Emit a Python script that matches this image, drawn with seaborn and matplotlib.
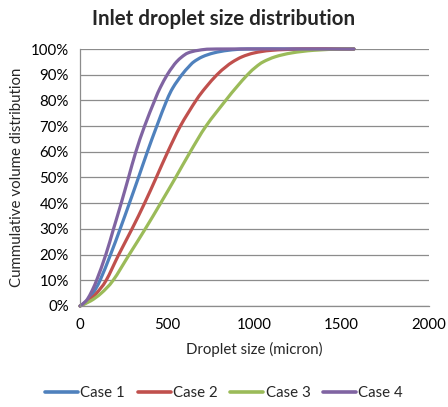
import matplotlib
matplotlib.use("Agg")
import matplotlib.pyplot as plt
from matplotlib.ticker import PercentFormatter, MultipleLocator
from matplotlib.path import Path
from matplotlib.patches import PathPatch
import seaborn as sns
import pandas as pd

# Cumulative volume fraction versus droplet size (micron) for each case
case_names = ["Case 1", "Case 2", "Case 3", "Case 4"]

size_case1 = [0, 40, 75, 115, 175, 230, 283, 335, 386, 440, 497, 533, 584, 622, 652, 702, 768, 850, 960, 1250, 1570]
cum_case1 = [0, .02, .05, .10, .20, .30, .40, .50, .60, .70, .80, .85, .90, .93, .95, .97, .985, .995, 1.0, 1.0, 1.0]

size_case2 = [0, 50, 95, 150, 222, 298, 370, 437, 503, 575, 665, 720, 785, 835, 875, 930, 1000, 1100, 1280, 1570]
cum_case2 = [0, .02, .05, .10, .20, .30, .40, .50, .60, .70, .80, .85, .90, .93, .95, .97, .985, .995, 1.0, 1.0]

size_case3 = [0, 62, 122, 190, 282, 374, 462, 548, 632, 722, 835, 895, 960, 1008, 1050, 1120, 1215, 1340, 1500, 1570]
cum_case3 = [0, .02, .05, .10, .20, .30, .40, .50, .60, .70, .80, .85, .90, .93, .95, .97, .985, .995, 1.0, 1.0]

size_case4 = [0, 35, 62, 95, 148, 192, 236, 278, 320, 370, 428, 460, 500, 530, 553, 585, 620, 680, 780, 1200, 1570]
cum_case4 = [0, .02, .05, .10, .20, .30, .40, .50, .60, .70, .80, .85, .90, .93, .95, .97, .985, .995, 1.0, 1.0, 1.0]

x_ticks = [0, 500, 1000, 1500, 2000]
colors = ["#4F81BD", "#C0504D", "#9BBB59", "#8064A2"]
line_w = 2.3

sizes = [size_case1, size_case2, size_case3, size_case4]
cums = [cum_case1, cum_case2, cum_case3, cum_case4]
frames = []
for name, s, c in zip(case_names, sizes, cums):
    frames.append(pd.DataFrame({"size": s, "cum": c, "case": name}))
df = pd.concat(frames, ignore_index=True)


def smooth_path(xs, ys):
    """Smoothed-line path: cubic Bezier segments through every data point."""
    pts = list(zip(xs, ys))
    n = len(pts)
    verts = [pts[0]]
    codes = [Path.MOVETO]
    for i in range(n - 1):
        p0 = pts[max(i - 1, 0)]
        p1 = pts[i]
        p2 = pts[i + 1]
        p3 = pts[min(i + 2, n - 1)]
        c1 = (p1[0] + (p2[0] - p0[0]) / 6.0, p1[1] + (p2[1] - p0[1]) / 6.0)
        c2 = (p2[0] - (p3[0] - p1[0]) / 6.0, p2[1] - (p3[1] - p1[1]) / 6.0)
        verts += [c1, c2, p2]
        codes += [Path.CURVE4] * 3
    return Path(verts, codes)


sns.set_style("white")
plt.rcParams["font.family"] = ["Lato", "DejaVu Sans"]
fs = 10.8

fig = plt.figure(figsize=(4.48, 4.07), dpi=100)
ax = fig.add_axes([0.1786, 0.2482, 0.7790, 0.6314])

sns.lineplot(data=df, x="size", y="cum", hue="case", hue_order=case_names,
             palette=dict(zip(case_names, colors)), sort=False,
             linewidth=line_w, ax=ax, legend=True)

# Render each series as a smoothed curve through its points
for line, s, c, col in zip(ax.get_lines()[:len(case_names)], sizes, cums, colors):
    line.set_visible(False)
    patch = PathPatch(smooth_path(s, c), facecolor="none", edgecolor=col,
                      linewidth=line_w, capstyle="round", joinstyle="round",
                      transform=ax.transData, clip_on=False)
    ax.add_patch(patch)

grid_col = "#8C8C8C"
ax.set_xlim(0, 2000)
ax.set_ylim(0, 1.0)
ax.set_xticks(x_ticks)
ax.yaxis.set_major_locator(MultipleLocator(0.1))
ax.yaxis.set_major_formatter(PercentFormatter(1.0, decimals=0))
ax.yaxis.grid(True, color=grid_col, linewidth=0.9)
ax.xaxis.grid(False)
ax.set_axisbelow(True)
for side in ["top", "right"]:
    ax.spines[side].set_visible(False)
for side in ["left", "bottom"]:
    ax.spines[side].set_color(grid_col)
    ax.spines[side].set_linewidth(0.9)
ax.tick_params(axis="both", which="major", direction="out", length=4,
               width=0.9, color=grid_col, labelsize=fs, labelcolor="black", pad=4)
ax.tick_params(axis="x", pad=5)

ax.set_xlabel("Droplet size (micron)", fontsize=fs, labelpad=7)
ax.set_ylabel("Cummulative volume distribution", fontsize=fs, labelpad=5)

fig.suptitle("Inlet droplet size distribution", x=0.5, y=0.978,
             fontsize=14.8, fontweight="bold")

handles, labels = ax.get_legend_handles_labels()
ax.legend_.remove()
for h in handles:
    h.set_linewidth(2.6)
fig.legend(handles, labels, loc="center", bbox_to_anchor=(0.5, 0.035), ncol=4,
           frameon=False, fontsize=fs, handlelength=2.2, handletextpad=0.15,
           columnspacing=0.85)

fig.savefig("out.png", dpi=100)
